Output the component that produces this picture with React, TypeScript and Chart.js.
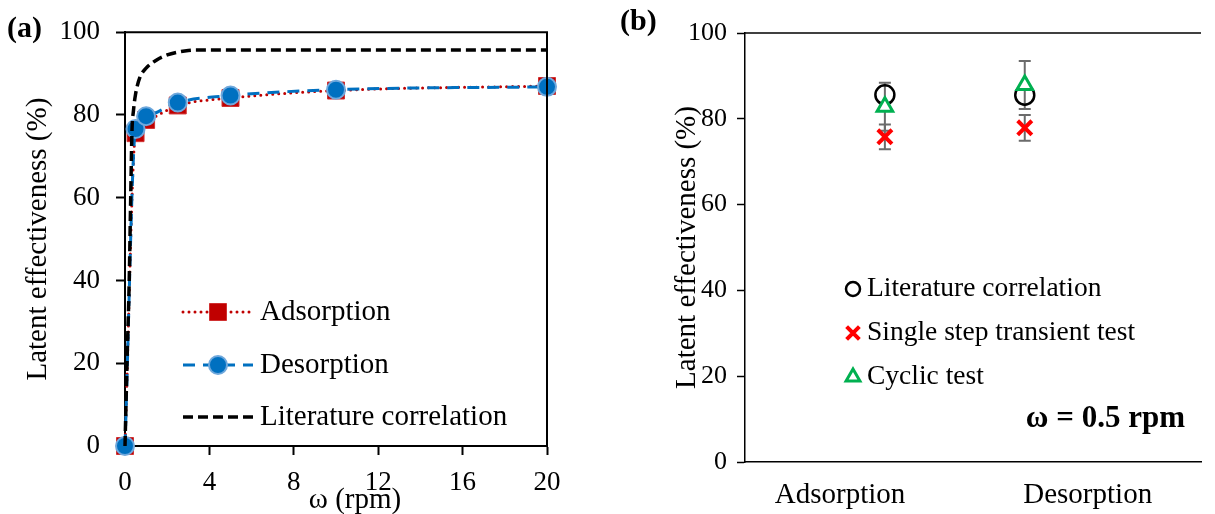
import React, { useEffect, useRef } from "react";
import { Chart, registerables } from "chart.js";

Chart.register(...registerables);

const SERIF = "'Liberation Serif', 'Times New Roman', Times, serif";

// ---------- Panel (a) data ----------
const rpmA = [0, 0.5, 1, 2.5, 5, 10, 20];
const adsorptionA = [0, 75.6, 78.8, 82.3, 84.1, 85.9, 87.0];
const desorptionA = [0, 76.6, 79.7, 83.0, 84.7, 86.1, 86.8];
const corrRpmA = [0, 0.1, 0.2, 0.27, 0.33, 0.4, 0.5, 0.7, 1, 1.5, 2, 2.5, 3, 3.5, 5, 10, 20];
const corrEffA = [0, 21, 40, 60, 76, 81, 85, 89, 91.3, 93.3, 94.5, 95.2, 95.6, 95.7, 95.7, 95.7, 95.7];
const xTicksA = [0, 4, 8, 12, 16, 20];
const yTicksA = [0, 20, 40, 60, 80, 100];
const legendA = ["Adsorption", "Desorption", "Literature correlation"];
const xTitleA = "ω (rpm)";
const yTitle = "Latent effectiveness (%)";

// ---------- Panel (b) data ----------
const categoriesB = ["Adsorption", "Desorption"];
const literatureB = [85.6, 85.5];
const singleStepB = [75.8, 77.9];
const singleStepErrB = [2.9, 3.0];
const cyclicB = [82.8, 87.9];
const cyclicErrB = [5.6, 5.6];
const yTicksB = [0, 20, 40, 60, 80, 100];
const legendB = ["Literature correlation", "Single step transient test", "Cyclic test"];
const noteB = "ω = 0.5 rpm";

const RED = "#C00000";
const BLUE = "#0070C0";
const BLUE_EDGE = "#6FA8DC";

type MarkerKind = "rect" | "circle" | "cross" | "triangle";

function drawMarker(
  ctx: CanvasRenderingContext2D,
  kind: MarkerKind,
  x: number,
  y: number,
  r: number,
  fill: string | null,
  stroke: string,
  bw: number
) {
  ctx.save();
  ctx.setLineDash([]);
  ctx.lineWidth = bw;
  ctx.strokeStyle = stroke;
  ctx.beginPath();
  if (kind === "rect") {
    const s = Math.SQRT1_2 * r;
    ctx.rect(x - s, y - s, 2 * s, 2 * s);
  } else if (kind === "circle") {
    ctx.arc(x, y, r, 0, Math.PI * 2);
  } else if (kind === "triangle") {
    for (let k = 0; k < 3; k++) {
      const a = (k * 2 * Math.PI) / 3;
      const px = x + Math.sin(a) * r;
      const py = y - Math.cos(a) * r;
      if (k === 0) ctx.moveTo(px, py);
      else ctx.lineTo(px, py);
    }
    ctx.closePath();
  } else if (kind === "cross") {
    const d = Math.SQRT1_2 * r;
    ctx.moveTo(x - d, y - d);
    ctx.lineTo(x + d, y + d);
    ctx.moveTo(x + d, y - d);
    ctx.lineTo(x - d, y + d);
  }
  if (fill && kind !== "cross") {
    ctx.fillStyle = fill;
    ctx.fill();
  }
  ctx.stroke();
  ctx.restore();
}

function drawText(
  ctx: CanvasRenderingContext2D,
  text: string,
  x: number,
  y: number,
  font: string,
  align: CanvasTextAlign = "left"
) {
  ctx.save();
  ctx.font = font;
  ctx.fillStyle = "#000";
  ctx.textAlign = align;
  ctx.textBaseline = "middle";
  ctx.fillText(text, x, y);
  ctx.restore();
}

function legendLine(
  ctx: CanvasRenderingContext2D,
  x1: number,
  x2: number,
  y: number,
  color: string,
  width: number,
  dash: number[],
  cap: CanvasLineCap
) {
  ctx.save();
  ctx.strokeStyle = color;
  ctx.lineWidth = width;
  ctx.lineCap = cap;
  ctx.setLineDash(dash);
  ctx.beginPath();
  ctx.moveTo(x1, y);
  ctx.lineTo(x2, y);
  ctx.stroke();
  ctx.restore();
}

// ---------- Panel (a) plugin ----------
const panelAPlugin = {
  id: "panelA",
  afterDraw(chart: any) {
    const { ctx, chartArea } = chart;
    ctx.save();
    ctx.strokeStyle = "#000";
    ctx.lineWidth = 2;
    ctx.beginPath();
    ctx.moveTo(chartArea.left, chartArea.top);
    ctx.lineTo(chartArea.right, chartArea.top);
    ctx.lineTo(chartArea.right, chartArea.bottom);
    ctx.stroke();
    ctx.restore();

    drawText(ctx, "(a)", 7, 29, `bold 30px ${SERIF}`);
    // x-axis title (slightly right of centre, as in the source figure)
    drawText(ctx, xTitleA, 355, 500, `29px ${SERIF}`, "center");

    const rows = [312, 365, 417];
    const x1 = 183;
    const x2 = 253;
    const mx = 218;
    const tx = 260;
    const font = `29px ${SERIF}`;
    legendLine(ctx, x1, x2, rows[0], RED, 3, [0, 6], "round");
    drawMarker(ctx, "rect", mx, rows[0], 12, RED, "#D03030", 1);
    drawText(ctx, legendA[0], tx, rows[0], font);
    legendLine(ctx, x1, x2, rows[1], BLUE, 3, [12, 8], "butt");
    drawMarker(ctx, "circle", mx, rows[1], 9, BLUE, BLUE_EDGE, 2);
    drawText(ctx, legendA[1], tx, rows[1], font);
    legendLine(ctx, x1, x2, rows[2], "#000", 3.5, [10, 5], "butt");
    drawText(ctx, legendA[2], tx, rows[2], font);
  },
};

// ---------- Panel (b) plugins ----------
const errorBarPlugin = {
  id: "errorBars",
  beforeDatasetsDraw(chart: any) {
    const { ctx } = chart;
    const xs = chart.scales.x;
    const ys = chart.scales.y;
    chart.data.datasets.forEach((ds: any) => {
      if (!ds.errors) return;
      ds.data.forEach((p: any, i: number) => {
        const e = ds.errors[i];
        const x = xs.getPixelForValue(p.x);
        const yTop = ys.getPixelForValue(p.y + e);
        const yBot = ys.getPixelForValue(p.y - e);
        ctx.save();
        ctx.strokeStyle = "#6B6B6B";
        ctx.lineWidth = 2;
        ctx.beginPath();
        ctx.moveTo(x, yTop);
        ctx.lineTo(x, yBot);
        ctx.moveTo(x - 6, yTop);
        ctx.lineTo(x + 6, yTop);
        ctx.moveTo(x - 6, yBot);
        ctx.lineTo(x + 6, yBot);
        ctx.stroke();
        ctx.restore();
      });
    });
  },
};

const panelBPlugin = {
  id: "panelB",
  afterDraw(chart: any) {
    const { ctx, chartArea } = chart;
    ctx.save();
    ctx.strokeStyle = "#000";
    ctx.lineWidth = 1.5;
    ctx.beginPath();
    ctx.moveTo(chartArea.left, chartArea.top);
    ctx.lineTo(chartArea.right, chartArea.top);
    ctx.stroke();
    ctx.restore();

    drawText(ctx, "(b)", 20, 22, `bold 30px ${SERIF}`);

    const rows = [289, 333, 377];
    const mx = 253;
    const tx = 267;
    const font = `27.5px ${SERIF}`;
    drawMarker(ctx, "circle", mx, rows[0], 7, null, "#000", 2.5);
    drawText(ctx, legendB[0], tx, rows[0], font);
    drawMarker(ctx, "cross", mx, rows[1], 9, null, "#FF0000", 4);
    drawText(ctx, legendB[1], tx, rows[1], font);
    drawMarker(ctx, "triangle", mx, rows[2], 8, "#fff", "#00B050", 3);
    drawText(ctx, legendB[2], tx, rows[2], font);

    drawText(ctx, noteB, 585, 419, `bold 31px ${SERIF}`, "right");
  },
};

function makeConfigA(): any {
  const tickFont = { family: SERIF, size: 27 };
  const common = {
    grid: {
      display: true,
      drawOnChartArea: false,
      drawTicks: true,
      tickLength: 9,
      tickWidth: 2,
      tickColor: "#000",
    },
    border: { display: true, color: "#000", width: 2 },
  };
  return {
    type: "scatter",
    data: {
      datasets: [
        {
          label: legendA[2],
          data: corrRpmA.map((x, i) => ({ x, y: corrEffA[i] })),
          showLine: true,
          borderColor: "#000",
          borderWidth: 3.5,
          borderDash: [10, 5],
          pointRadius: 0,
          cubicInterpolationMode: "monotone",
          fill: false,
          clip: false,
        },
        {
          label: legendA[1],
          data: rpmA.map((x, i) => ({ x, y: desorptionA[i] })),
          showLine: true,
          borderColor: BLUE,
          borderWidth: 3,
          borderDash: [12, 8],
          pointStyle: "circle",
          pointRadius: 9,
          pointBackgroundColor: BLUE,
          pointBorderColor: BLUE_EDGE,
          pointBorderWidth: 2,
          cubicInterpolationMode: "monotone",
          fill: false,
          clip: false,
        },
        {
          label: legendA[0],
          data: rpmA.map((x, i) => ({ x, y: adsorptionA[i] })),
          showLine: true,
          borderColor: RED,
          borderWidth: 3,
          borderDash: [0, 6],
          borderCapStyle: "round",
          pointStyle: "rect",
          pointRadius: 12,
          pointBackgroundColor: RED,
          pointBorderColor: "#D03030",
          pointBorderWidth: 1,
          cubicInterpolationMode: "monotone",
          fill: false,
          clip: false,
        },
      ],
    },
    options: {
      animation: false,
      responsive: false,
      devicePixelRatio: 1,
      layout: { padding: { left: 0, right: 53, top: 28, bottom: 0 } },
      plugins: { legend: { display: false }, tooltip: { enabled: false } },
      scales: {
        x: {
          type: "linear",
          min: 0,
          max: 20,
          afterBuildTicks: (s: any) => {
            s.ticks = xTicksA.map((v) => ({ value: v }));
          },
          afterFit: (s: any) => {
            s.height = 68;
          },
          ...common,
          ticks: { color: "#000", font: tickFont, padding: 12, maxRotation: 0, autoSkip: false },
          title: { display: false, text: xTitleA },
        },
        y: {
          type: "linear",
          min: 0,
          max: 100,
          afterBuildTicks: (s: any) => {
            s.ticks = yTicksA.map((v) => ({ value: v }));
          },
          afterFit: (s: any) => {
            s.width = 125;
          },
          ...common,
          ticks: { color: "#000", font: tickFont, padding: 16, autoSkip: false },
          title: {
            display: true,
            text: yTitle,
            color: "#000",
            font: { family: SERIF, size: 29, lineHeight: 1 },
            padding: { top: 24, bottom: 0 },
          },
        },
      },
    },
    plugins: [panelAPlugin],
  };
}

function makeConfigB(): any {
  return {
    type: "scatter",
    data: {
      datasets: [
        {
          label: legendB[2],
          data: categoriesB.map((_, i) => ({ x: i + 1, y: cyclicB[i] })),
          errors: cyclicErrB,
          pointStyle: "triangle",
          pointRadius: 9,
          pointBackgroundColor: "#fff",
          pointBorderColor: "#00B050",
          pointBorderWidth: 3,
        },
        {
          label: legendB[1],
          data: categoriesB.map((_, i) => ({ x: i + 1, y: singleStepB[i] })),
          errors: singleStepErrB,
          pointStyle: "crossRot",
          pointRadius: 10,
          pointBorderColor: "#FF0000",
          pointBorderWidth: 4,
        },
        {
          label: legendB[0],
          data: categoriesB.map((_, i) => ({ x: i + 1, y: literatureB[i] })),
          pointStyle: "circle",
          pointRadius: 9.5,
          pointBackgroundColor: "rgba(0,0,0,0)",
          pointBorderColor: "#000",
          pointBorderWidth: 2.5,
        },
      ],
    },
    options: {
      animation: false,
      responsive: false,
      devicePixelRatio: 1,
      layout: { padding: { left: 0, right: 0, top: 33, bottom: 0 } },
      plugins: { legend: { display: false }, tooltip: { enabled: false } },
      scales: {
        x: {
          type: "linear",
          min: 0,
          max: 3.26,
          afterBuildTicks: (s: any) => {
            s.ticks = [{ value: 0.68 }, { value: 2.45 }];
          },
          afterFit: (s: any) => {
            s.height = 52;
          },
          grid: { display: false },
          border: { display: true, color: "#000", width: 1.5 },
          ticks: {
            color: "#000",
            font: { family: SERIF, size: 29 },
            padding: 8,
            maxRotation: 0,
            autoSkip: false,
            callback: (_v: any, i: number) => categoriesB[i],
          },
        },
        y: {
          type: "linear",
          min: 0,
          max: 100,
          afterBuildTicks: (s: any) => {
            s.ticks = yTicksB.map((v) => ({ value: v }));
          },
          afterFit: (s: any) => {
            s.width = 145;
          },
          grid: {
            display: true,
            drawOnChartArea: false,
            drawTicks: true,
            tickLength: 8,
            tickWidth: 1.5,
            tickColor: "#000",
          },
          border: { display: true, color: "#000", width: 1.5 },
          ticks: { color: "#000", font: { family: SERIF, size: 26 }, padding: 10, autoSkip: false },
          title: {
            display: true,
            text: yTitle,
            color: "#000",
            font: { family: SERIF, size: 29, lineHeight: 1 },
            padding: { top: 73, bottom: 0 },
          },
        },
      },
    },
    plugins: [errorBarPlugin, panelBPlugin],
  };
}

function ChartCanvas(props: { make: () => any; left: number; width: number; height: number }) {
  const ref = useRef<HTMLCanvasElement>(null);
  useEffect(() => {
    const chart = new Chart(ref.current as HTMLCanvasElement, props.make());
    return () => chart.destroy();
  }, []);
  return (
    <canvas
      ref={ref}
      width={props.width}
      height={props.height}
      style={{ position: "absolute", left: props.left, top: 0, width: props.width, height: props.height }}
    />
  );
}

export default function App() {
  return (
    <div style={{ position: "absolute", left: 0, top: 0, width: 1215, height: 514, background: "#fff", overflow: "hidden" }}>
      <ChartCanvas make={makeConfigA} left={0} width={600} height={514} />
      <ChartCanvas make={makeConfigB} left={600} width={615} height={514} />
    </div>
  );
}
